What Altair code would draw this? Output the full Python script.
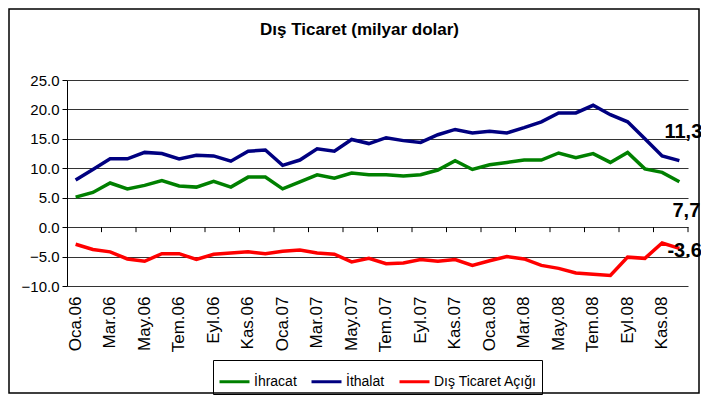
import altair as alt
import pandas as pd

aylar = [
    "Oca.06", "Şub.06", "Mar.06", "Nis.06", "May.06", "Haz.06",
    "Tem.06", "Ağu.06", "Eyl.06", "Eki.06", "Kas.06", "Ara.06",
    "Oca.07", "Şub.07", "Mar.07", "Nis.07", "May.07", "Haz.07",
    "Tem.07", "Ağu.07", "Eyl.07", "Eki.07", "Kas.07", "Ara.07",
    "Oca.08", "Şub.08", "Mar.08", "Nis.08", "May.08", "Haz.08",
    "Tem.08", "Ağu.08", "Eyl.08", "Eki.08", "Kas.08", "Ara.08",
]
etiket_aylar = aylar[::2]
tik_aylar = aylar[1::2]

ihracat = [5.1, 5.9, 7.5, 6.5, 7.1, 7.9, 7.0, 6.8, 7.8, 6.8,
           8.5, 8.5, 6.5, 7.7, 8.9, 8.3, 9.2, 8.9, 8.9, 8.7,
           8.9, 9.7, 11.3, 9.8, 10.6, 11.0, 11.4, 11.4, 12.6, 11.8,
           12.5, 11.0, 12.7, 9.9, 9.3, 7.7]
ithalat = [8.0, 9.8, 11.6, 11.6, 12.7, 12.5, 11.6, 12.2, 12.1, 11.2,
           12.9, 13.1, 10.5, 11.4, 13.3, 12.9, 14.9, 14.2, 15.2, 14.7,
           14.4, 15.7, 16.6, 16.0, 16.3, 16.0, 16.9, 17.9, 19.4, 19.4,
           20.7, 19.1, 17.9, 15.0, 12.1, 11.3]
acik = [-2.9, -3.8, -4.2, -5.4, -5.8, -4.5, -4.5, -5.5, -4.6, -4.4,
        -4.2, -4.5, -4.1, -3.9, -4.4, -4.6, -5.9, -5.3, -6.2, -6.1,
        -5.5, -5.8, -5.5, -6.5, -5.7, -5.0, -5.4, -6.5, -7.0, -7.8,
        -8.0, -8.2, -5.1, -5.3, -2.7, -3.6]

seriler = ["İhracat", "İthalat", "Dış Ticaret Açığı"]
renkler = ["#008000", "#000080", "#FF0000"]
son_etiketler = ["7,7", "11,3", "-3.6"]
y_degerleri = [-10, -5, 0, 5, 10, 15, 20, 25]

FONT = "Liberation Sans"
W, H = 621, 206
Y_MIN, Y_MAX = -10, 25
ZERO_POS = H * Y_MAX / (Y_MAX - Y_MIN)

rows = []
for s, vals in zip(seriler, [ihracat, ithalat, acik]):
    for i, (a, v) in enumerate(zip(aylar, vals)):
        rows.append({"ay": a, "seri": s, "deger": v, "sira": i})
df = pd.DataFrame(rows)

son = pd.DataFrame({
    "ay": [aylar[-1]] * 3,
    "seri": seriler,
    "deger": [ihracat[-1], ithalat[-1], acik[-1]],
    "etiket": son_etiketler,
})
tikler = pd.DataFrame({"ay": tik_aylar})

x_scale = alt.Scale(type="band", paddingInner=0, paddingOuter=0, domain=aylar)
y_scale = alt.Scale(domain=[Y_MIN, Y_MAX], nice=False, zero=False)

x_axis = alt.Axis(orient="bottom", values=etiket_aylar, labelAngle=-90,
                  domain=False, ticks=False, labelPadding=10,
                  labelFont=FONT, labelFontSize=17, labelColor="black",
                  title=None, grid=False)
y_axis = alt.Axis(values=y_degerleri, format=".1f", title=None, grid=True,
                  gridColor="#333333", gridWidth=1, domainColor="black",
                  tickColor="black", tickSize=5, labelFont=FONT,
                  labelFontSize=15, labelColor="black", labelPadding=3)

lines = alt.Chart(df).mark_line(strokeWidth=3.5).encode(
    x=alt.X("ay:N", scale=x_scale, bandPosition=0.5, axis=x_axis),
    y=alt.Y("deger:Q", scale=y_scale, axis=y_axis),
    color=alt.Color("seri:N", scale=alt.Scale(domain=seriler, range=renkler),
                    legend=alt.Legend(orient="none", legendX=146, legendY=280,
                                      direction="horizontal", title=None,
                                      symbolType="stroke", symbolStrokeWidth=3,
                                      symbolSize=900, labelFont=FONT,
                                      labelFontSize=14, labelColor="black",
                                      strokeColor="black", padding=5,
                                      columnPadding=8, labelOffset=3)),
    order=alt.Order("sira:Q"),
)

tick_rules = alt.Chart(tikler).mark_rule(color="black", strokeWidth=1).encode(
    x=alt.X("ay:N", scale=x_scale, bandPosition=1, axis=x_axis),
    y=alt.value(ZERO_POS),
    y2=alt.value(ZERO_POS + 5),
)


def etiket(seri, dx, dy, align):
    return alt.Chart(son).transform_filter(
        alt.datum.seri == seri
    ).mark_text(font=FONT, fontWeight="bold", fontSize=20, color="black",
                align=align, baseline="alphabetic", dx=dx, dy=dy).encode(
        x=alt.X("ay:N", scale=x_scale, bandPosition=0.5, axis=x_axis),
        y=alt.Y("deger:Q", scale=y_scale, axis=y_axis),
        text="etiket:N",
    )


t_ith = etiket("İthalat", 4, -23, "center")
t_ihr = etiket("İhracat", 7, 35, "center")
t_acik = etiket("Dış Ticaret Açığı", -12, 9, "left")

border = alt.Chart(alt.Data(values=[{"a": 1}])).mark_rect(
    fill="transparent", stroke="black", strokeWidth=1.5
).encode(
    x=alt.value(-58), x2=alt.value(632), y=alt.value(-71), y2=alt.value(313)
)

chart = alt.layer(border, tick_rules, lines, t_ith, t_ihr, t_acik).properties(
    width=W, height=H,
    autosize="none",
    padding={"left": 59, "top": 72, "right": 13, "bottom": 109},
    background="white",
    title=alt.TitleParams("Dış Ticaret (milyar dolar)", font=FONT, fontSize=17,
                          fontWeight="bold", anchor="middle", frame="group",
                          dx=-18, dy=31, offset=0, color="black"),
).configure_view(stroke=None)

chart.save("out.html", embed_options={"renderer": "svg", "actions": False})
